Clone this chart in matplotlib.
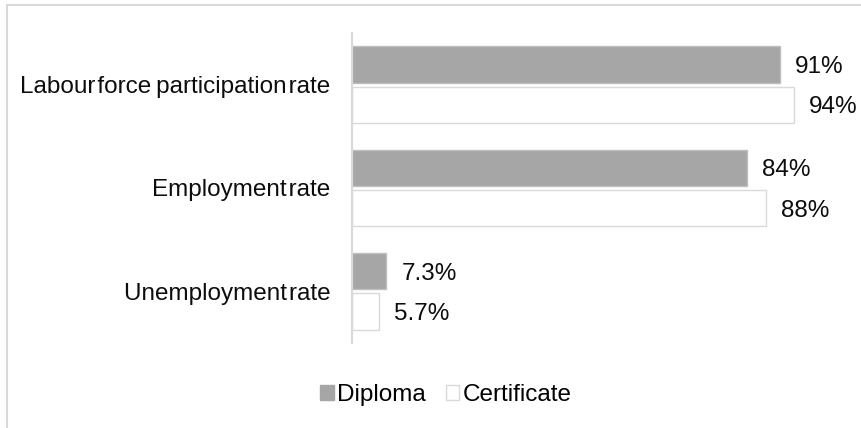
import numpy as np
import matplotlib.pyplot as plt
from matplotlib.patches import Patch
from matplotlib.lines import Line2D

plt.rcParams['font.family'] = ['Liberation Sans', 'DejaVu Sans']

# the source squeezes the word spaces, so hair spaces are used here
categories = ["Labour\u200aforce\u2009participation\u200arate", "Employment\u200arate", "Unemployment\u200arate"]
diploma = [91, 84, 7.3]
certificate = [94, 88, 5.7]
diploma_lbl = ["91%", "84%", "7.3%"]
certificate_lbl = ["94%", "88%", "5.7%"]

W, H = 861, 428
fs = 17.5
txt = "#0d0d0d"
fig = plt.figure(figsize=(W / 100, H / 100), dpi=100)

# outer frame (only left and top visible)
fig.add_artist(Line2D([7 / W, 7 / W], [0, 1 - 4.5 / H], transform=fig.transFigure, color="#d9d9d9", lw=1.5))
fig.add_artist(Line2D([7 / W, 1], [1 - 4.5 / H, 1 - 4.5 / H], transform=fig.transFigure, color="#d9d9d9", lw=1.5))

ax = fig.add_axes([352 / W, 85 / H, 470 / W, 310 / H])

y = np.arange(len(categories))
h = 0.35
gray = "#a6a6a6"
ax.barh(y - 0.195, diploma, height=h, color=gray, edgecolor="#bfbfbf", linewidth=1, label="Diploma")
ax.barh(y + 0.195, certificate, height=h, color="white", edgecolor="#d9d9d9", linewidth=1, label="Certificate")

for yi, v, t in zip(y, diploma, diploma_lbl):
    ax.annotate(t, (v, yi - 0.195), xytext=(11, -1.8), textcoords="offset points",
                va="center", ha="left", fontsize=fs, color=txt)
for yi, v, t in zip(y, certificate, certificate_lbl):
    ax.annotate(t, (v, yi + 0.195), xytext=(11, -1.8), textcoords="offset points",
                va="center", ha="left", fontsize=fs, color=txt)

ax.set_xlim(0, 100)
ax.set_ylim(2.5, -0.5)
ax.set_yticks(y)
ax.set_yticklabels(categories, fontsize=fs, color=txt)
ax.tick_params(axis="y", length=0, pad=15.5)
ax.set_xticks([])
for s in ["top", "right", "bottom"]:
    ax.spines[s].set_visible(False)
ax.spines["left"].set_color("#d9d9d9")
ax.spines["left"].set_linewidth(1.5)

handles = [Patch(facecolor=gray, edgecolor=gray), Patch(facecolor="white", edgecolor="#d9d9d9")]
fig.legend(handles, ["Diploma", "Certificate"], loc="center", bbox_to_anchor=(446 / W, 1 - 395 / H),
           ncol=2, frameon=False, fontsize=fs, handlelength=0.55, handleheight=0.55,
           handletextpad=0.15, columnspacing=0.8, borderpad=0)

fig.savefig("out.png", dpi=100)
